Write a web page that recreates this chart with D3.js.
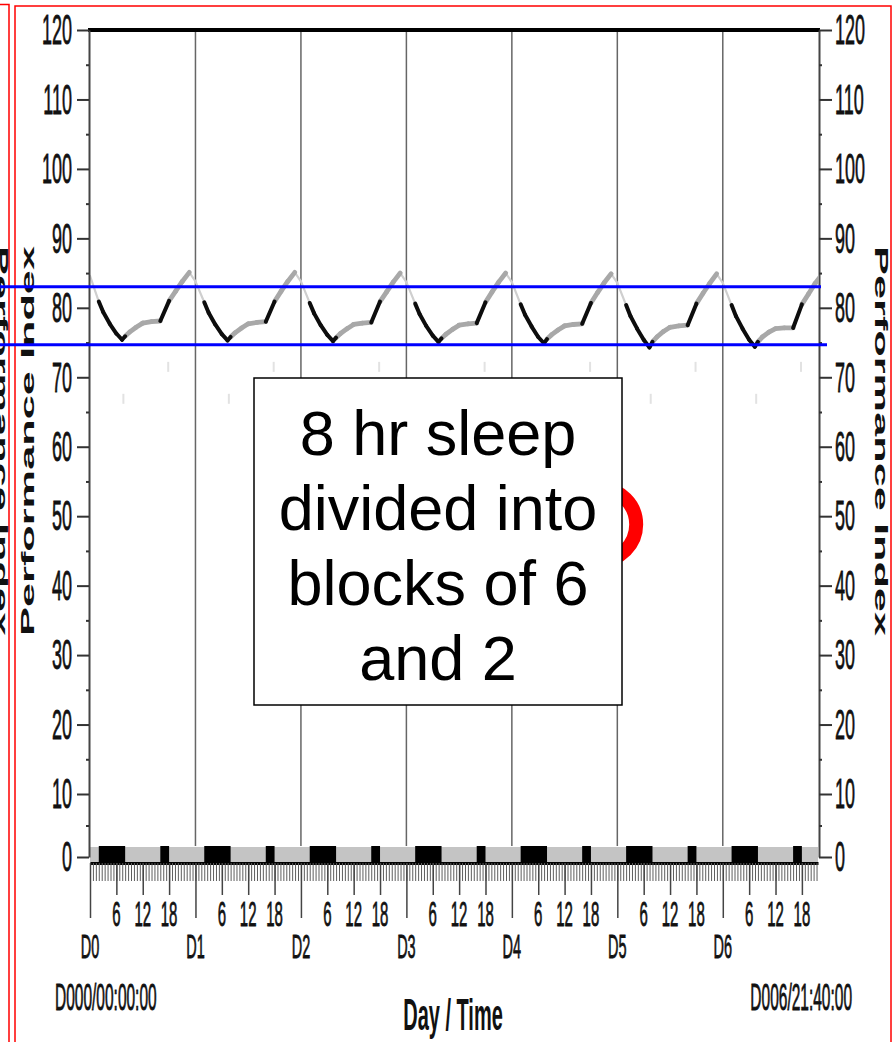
<!DOCTYPE html>
<html>
<head>
<meta charset="utf-8">
<script src="https://cdn.jsdelivr.net/npm/d3@7/dist/d3.min.js"></script>
<style>
  html, body { margin: 0; padding: 0; background: #fff; }
  svg { display: block; }
</style>
</head>
<body>
<svg id="chart" width="894" height="1042"></svg>
<script>
// ---- data ----
const dayLabels = ["D0", "D1", "D2", "D3", "D4", "D5", "D6"];
const hourLabels = [6, 12, 18];
const yTickValues = [0, 10, 20, 30, 40, 50, 60, 70, 80, 90, 100, 110, 120];
const yMinorTicks = [5, 15, 25, 35, 45, 55, 65, 75, 85, 95, 105, 115];
const timeRangeLabels = ["D000/00:00:00", "D006/21:40:00"];
const endHour = 6 * 24 + 21 + 40 / 60;   // D006/21:40:00

// hour-of-day sample points and the performance index at each, per day
const sampleHours = [0, 2, 3, 4.5, 6, 7.3, 8, 9, 10.5, 12, 14, 16, 18, 19.5, 21, 22.6];
const perfD0 = [84.6, 80.9, 79.4, 77.7, 76.3, 75.4, 75.9, 76.5, 77.2, 77.8, 78.0, 78.1, 81.0, 82.4, 83.8, 85.1];
const perfD1 = [83.8, 80.8, 79.3, 77.6, 76.2, 75.3, 75.8, 76.4, 77.1, 77.7, 77.9, 78.0, 80.9, 82.4, 83.8, 85.1];
const perfD2 = [83.8, 80.7, 79.2, 77.5, 76.1, 75.2, 75.7, 76.3, 77.0, 77.6, 77.8, 77.9, 80.9, 82.3, 83.7, 85.0];
const perfD3 = [83.7, 80.6, 79.1, 77.4, 76.0, 75.1, 75.6, 76.2, 76.9, 77.5, 77.7, 77.8, 80.8, 82.3, 83.7, 85.0];
const perfD4 = [83.7, 80.5, 79.0, 77.3, 75.8, 74.9, 75.5, 76.1, 76.8, 77.4, 77.6, 77.7, 80.7, 82.2, 83.6, 84.9];
const perfD5 = [83.6, 80.4, 78.8, 77.0, 75.4, 74.3, 75.1, 75.8, 76.6, 77.2, 77.4, 77.5, 80.6, 82.1, 83.5, 84.9];
const perfD6 = [83.6, 80.4, 78.8, 77.0, 75.4, 74.4, 75.1, 75.8, 76.5, 77.0, 77.1, 77.1, 80.5, 82.0, 83.5, 84.8];
const performanceByDay = [perfD0, perfD1, perfD2, perfD3, perfD4, perfD5, perfD6];

// sleep periods (hours from start): 6 h main block + 2 h nap each day
const sleepBlocks = [
  [2, 8], [16, 18], [26, 32], [40, 42], [50, 56], [64, 66], [74, 80], [88, 90],
  [98, 104], [112, 114], [122, 128], [136, 138], [146, 152], [160, 162]
];

// faint wake-up markers (hour, index)
const wakeMarks = [
  [7.6, 66.9], [17.8, 71.5], [31.6, 66.9], [41.8, 71.5], [55.6, 66.9], [65.8, 71.5],
  [79.6, 66.9], [89.8, 71.5], [103.6, 66.9], [113.8, 71.5], [127.6, 66.9], [137.8, 71.5],
  [151.6, 66.9], [161.8, 71.5]
];

// reference band drawn across the chart
const bandLines = [83.05, 74.7];

// circled highlight behind the note
const highlight = { hour: 116.1, value: 48.8 };
const noteLines = ["8 hr sleep", "divided into", "blocks of 6", "and 2"];

// ---- scales ----
const x = d3.scaleLinear().domain([0, endHour]).range([90, 818]);
const y = d3.scaleLinear().domain([0, 10, 120]).range([857, 794, 30]);

const svg = d3.select("#chart");
const FONT = "'Liberation Sans', Arial, sans-serif";
const x0 = x.range()[0], x1 = x.range()[1];
const stripTop = y(0) - 11, axisY = y(0) + 6;

// ---- panel frames ----
svg.append("path").attr("d", `M0,4.5H9V1042`).attr("fill", "none").attr("stroke", "#f00").attr("stroke-width", 1.5);
svg.append("rect").attr("x", 15).attr("y", 6).attr("width", 876).attr("height", 1045)
  .attr("fill", "none").attr("stroke", "#f00").attr("stroke-width", 1.5);

// ---- day separators ----
svg.append("g").selectAll("line").data(dayLabels.slice(1)).join("line")
  .attr("x1", (d, i) => x((i + 1) * 24)).attr("x2", (d, i) => x((i + 1) * 24))
  .attr("y1", y(120)).attr("y2", stripTop)
  .attr("stroke", "#666").attr("stroke-width", 1.5);

// ---- sleep strip at the zero line ----
svg.append("rect").attr("x", x0).attr("y", stripTop + 1).attr("width", x1 - x0).attr("height", axisY - stripTop - 1)
  .attr("fill", "#c4c4c4");
svg.append("g").selectAll("rect").data(sleepBlocks).join("rect")
  .attr("x", d => x(d[0])).attr("width", d => x(d[1]) - x(d[0]))
  .attr("y", stripTop).attr("height", axisY - stripTop)
  .attr("fill", "#000");

// ---- wake markers ----
svg.append("g").selectAll("line").data(wakeMarks).join("line")
  .attr("x1", d => x(d[0])).attr("x2", d => x(d[0]))
  .attr("y1", d => y(d[1]) - 5).attr("y2", d => y(d[1]) + 5)
  .attr("stroke", "#e2e2e2").attr("stroke-width", 2);

// ---- performance curve ----
svg.append("clipPath").attr("id", "plotClip").append("rect")
  .attr("x", x0).attr("y", y(120)).attr("width", x1 - x0).attr("height", y(0) - y(120));

const points = [];
performanceByDay.forEach((vals, d) => {
  vals.forEach((v, i) => points.push({ t: d * 24 + sampleHours[i], v }));
});
const asleep = t => sleepBlocks.some(b => t > b[0] && t < b[1]);
const segs = d3.pairs(points).map(([a, b]) => {
  const mid = (a.t + b.t) / 2;
  const kind = asleep(mid) ? "sleep" : (b.v < a.v ? "fall" : "wake");
  return { a, b, kind };
});
const segStyle = {
  sleep: { c: "#0d0d0d", w: 4 },
  wake: { c: "#a8a8a8", w: 4.8 },
  fall: { c: "#cfcfcf", w: 2.2 }
};
const line = d3.line().x(p => x(p.t)).y(p => y(p.v));
const gCurve = svg.append("g").attr("clip-path", "url(#plotClip)");
["fall", "wake", "sleep"].forEach(k => {
  gCurve.selectAll(null).data(segs.filter(s => s.kind === k)).join("path")
    .attr("d", s => line([s.a, s.b]))
    .attr("fill", "none").attr("stroke", segStyle[k].c).attr("stroke-width", segStyle[k].w)
    .attr("stroke-linecap", "round");
});

// ---- top border ----
svg.append("line").attr("x1", x0 - 2).attr("x2", x1 + 2).attr("y1", y(120)).attr("y2", y(120))
  .attr("stroke", "#000").attr("stroke-width", 4);

// ---- y axes ----
function styleAxis(g, w) {
  g.select(".domain").attr("stroke", "#444").attr("stroke-width", 2);
  g.selectAll(".tick line").attr("stroke", "#333").attr("stroke-width", w);
  g.selectAll(".tick text").remove();
}
svg.append("g").attr("transform", `translate(${x0 - 1},0)`)
  .call(d3.axisLeft(y).tickValues(yTickValues).tickSize(12).tickSizeOuter(0).tickFormat(""))
  .call(g => styleAxis(g, 2));
svg.append("g").attr("transform", `translate(${x0 - 1},0)`)
  .call(d3.axisLeft(y).tickValues(yMinorTicks).tickSize(3).tickSizeOuter(0).tickFormat(""))
  .call(g => { styleAxis(g, 2); g.select(".domain").remove(); });
svg.append("g").attr("transform", `translate(${x1 + 1},0)`)
  .call(d3.axisRight(y).tickValues(yTickValues).tickSize(13).tickSizeOuter(0).tickFormat(""))
  .call(g => styleAxis(g, 2));
svg.append("g").attr("transform", `translate(${x1 + 1},0)`)
  .call(d3.axisRight(y).tickValues(yMinorTicks).tickSize(3).tickSizeOuter(0).tickFormat(""))
  .call(g => { styleAxis(g, 2); g.select(".domain").remove(); });

// tall, narrow label text
function tallText(sel, size, weight) {
  return sel.attr("font-family", FONT).attr("font-size", size).attr("font-weight", weight || "normal")
    .attr("fill", "#111").attr("stroke", "#111").attr("stroke-width", weight ? 0 : 0.35)
    .attr("dominant-baseline", "central");
}
tallText(svg.append("g").selectAll("text").data(yTickValues).join("text")
  .attr("transform", d => `translate(72,${y(d)}) scale(1,2.35)`).attr("text-anchor", "end")
  .text(d => d), 18);
tallText(svg.append("g").selectAll("text").data(yTickValues).join("text")
  .attr("transform", d => `translate(835,${y(d)}) scale(1,2.35)`).attr("text-anchor", "start")
  .text(d => d), 18);

// ---- x axis ----
const minorX = d3.range(0, endHour + 0.01, 40 / 60);
const hourTicks = [];
dayLabels.forEach((d, i) => hourLabels.forEach(h => { if (i * 24 + h <= endHour) hourTicks.push({ t: i * 24 + h, h }); }));
const dayTicks = dayLabels.map((d, i) => ({ t: i * 24, d }));

svg.append("g").attr("transform", `translate(0,${axisY})`)
  .call(d3.axisBottom(x).tickValues(minorX).tickSize(18).tickSizeOuter(0).tickFormat(""))
  .call(g => {
    g.select(".domain").attr("stroke", "#000").attr("stroke-width", 3);
    g.selectAll(".tick line").attr("stroke", "#5e5e5e").attr("stroke-width", 1);
  });
svg.append("g").attr("transform", `translate(0,${axisY})`)
  .call(d3.axisBottom(x).tickValues(hourTicks.map(d => d.t)).tickSize(32).tickSizeOuter(0).tickFormat(""))
  .call(g => { g.select(".domain").remove(); g.selectAll(".tick line").attr("stroke", "#444").attr("stroke-width", 1.5); });
svg.append("g").attr("transform", `translate(0,${axisY})`)
  .call(d3.axisBottom(x).tickValues(dayTicks.map(d => d.t)).tickSize(55).tickSizeOuter(0).tickFormat(""))
  .call(g => { g.select(".domain").remove(); g.selectAll(".tick line").attr("stroke", "#444").attr("stroke-width", 1.5); });

tallText(svg.append("g").selectAll("text").data(hourTicks).join("text")
  .attr("transform", d => `translate(${x(d.t)},914) scale(1,2.3)`).attr("text-anchor", "middle")
  .text(d => d.h), 15);
tallText(svg.append("g").selectAll("text").data(dayTicks).join("text")
  .attr("transform", d => `translate(${x(d.t)},946) scale(1,2.3)`).attr("text-anchor", "middle")
  .text(d => d.d), 14.5);

tallText(svg.append("text").attr("transform", `translate(55,997) scale(1,2.4)`).attr("text-anchor", "start")
  .text(timeRangeLabels[0]), 15.5);
tallText(svg.append("text").attr("transform", `translate(852,997) scale(1,2.4)`).attr("text-anchor", "end")
  .text(timeRangeLabels[1]), 15.5);
tallText(svg.append("text").attr("transform", `translate(453,1015) scale(1,2.2)`).attr("text-anchor", "middle")
  .text("Day / Time"), 20, "bold");

// ---- axis titles ----
function axisTitle(tx, ty, rot) {
  svg.append("text").attr("transform", `translate(${tx},${ty}) rotate(${rot})`)
    .attr("text-anchor", "middle").attr("font-family", FONT).attr("font-size", 18).attr("font-weight", "bold")
    .attr("fill", "#111").attr("textLength", 390).attr("lengthAdjust", "spacingAndGlyphs")
    .text("Performance Index");
}
axisTitle(-5, 441, 90);    // neighbouring panel's title, cut by the page edge
axisTitle(34, 441, -90);
axisTitle(875, 441, 90);

// ---- band lines ----
svg.append("g").selectAll("line").data(bandLines).join("line")
  .attr("x1", 0).attr("x2", (d, i) => x1 + (i === 0 ? 3 : 9))
  .attr("y1", d => y(d)).attr("y2", d => y(d))
  .attr("stroke", "#0000ff").attr("stroke-width", 3);

// ---- highlight and note ----
svg.append("circle").attr("cx", x(highlight.hour)).attr("cy", y(highlight.value)).attr("r", 36)
  .attr("fill", "none").attr("stroke", "#ff0000").attr("stroke-width", 14);

svg.append("rect").attr("x", 254).attr("y", 378).attr("width", 368).attr("height", 327)
  .attr("fill", "#fff").attr("stroke", "#000").attr("stroke-width", 1.5);
svg.append("g").selectAll("text").data(noteLines).join("text")
  .attr("x", 438).attr("y", (d, i) => 455 + i * 75)
  .attr("text-anchor", "middle").attr("font-family", FONT).attr("font-size", 63).attr("fill", "#000")
  .text(d => d);
</script>
</body>
</html>
